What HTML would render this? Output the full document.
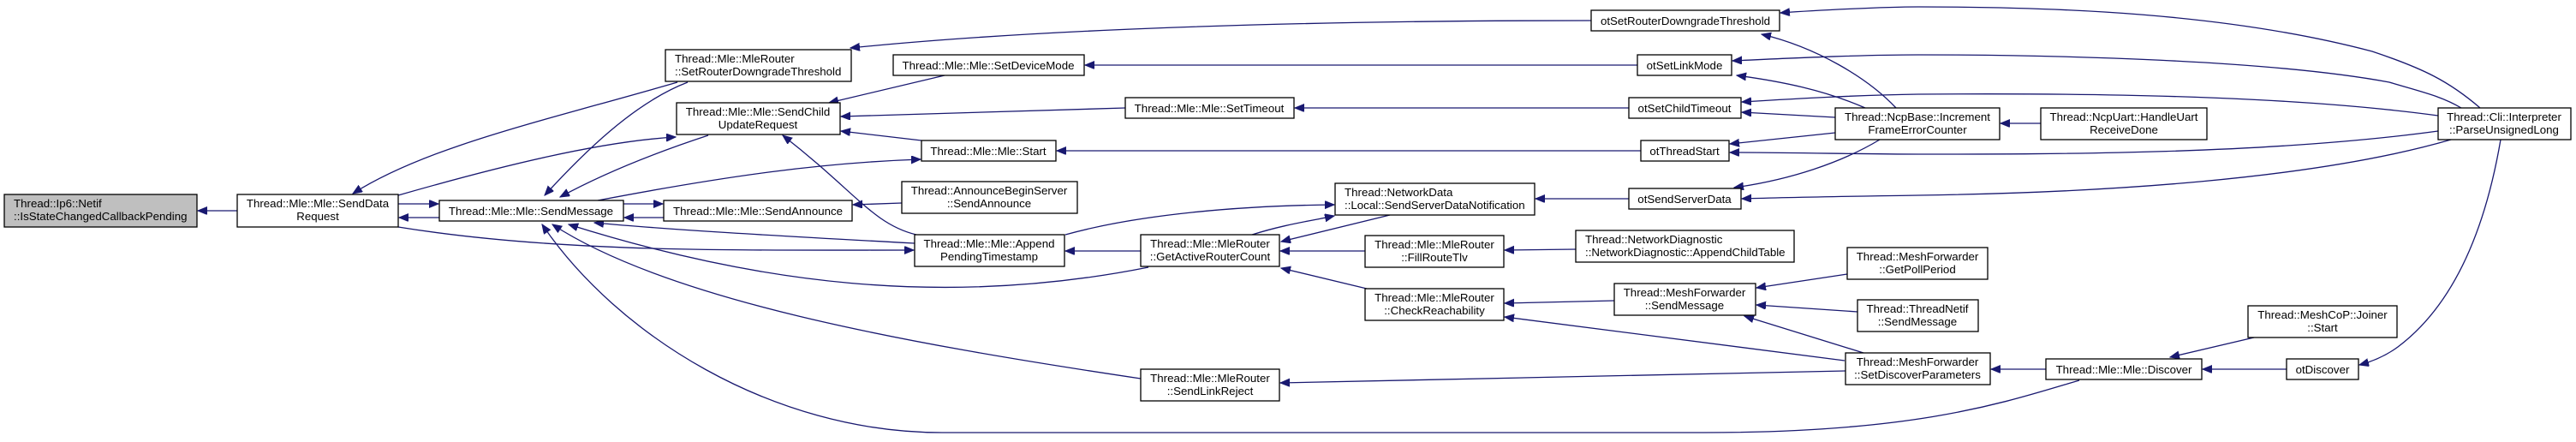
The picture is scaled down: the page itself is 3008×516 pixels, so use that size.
<!DOCTYPE html>
<html><head><meta charset="utf-8"><style>
html,body{margin:0;padding:0;background:#fff;}
svg{display:block;}
text{font-family:"Liberation Sans",Helvetica,Arial,sans-serif;font-size:13.3px;fill:#000;}
.e{fill:none;stroke:#191970;stroke-width:1.3;}
.n{fill:#fff;stroke:#000;stroke-width:1.3;}
</style></head><body>
<svg width="3008" height="516" viewBox="0 0 3008 516" xmlns="http://www.w3.org/2000/svg">
<defs><marker id="a" markerUnits="userSpaceOnUse" markerWidth="12" markerHeight="10" refX="11" refY="4.5" orient="auto"><path d="M0,0 L11,4.5 L0,9 z" fill="#191970" stroke="#191970"/></marker></defs>
<g marker-end="url(#a)">
<path class="e" d="M277,246 L231,246"/>
<path class="e" d="M465,238 L512,238"/>
<path class="e" d="M513,254 L466,254"/>
<path class="e" d="M791,96 C640,140 500,170 412,226"/>
<path class="e" d="M465,228 C580,195 700,165 789,160"/>
<path class="e" d="M803,96 C740,120 680,180 636,228"/>
<path class="e" d="M827,158 C760,180 700,205 654,230"/>
<path class="e" d="M698,234 C850,205 960,190 1075,186"/>
<path class="e" d="M728,238 L774,238"/>
<path class="e" d="M775,254 L729,254"/>
<path class="e" d="M1068,284 C900,275 780,268 694,260"/>
<path class="e" d="M465,265 C650,295 850,292 1067,292"/>
<path class="e" d="M1341,312 C1100,360 880,330 664,262"/>
<path class="e" d="M1332,442 C1050,400 780,350 645,262"/>
<path class="e" d="M2428,444 C2340,470 2240,505 1990,505 L1100,505 C900,505 720,390 633,262"/>
<path class="e" d="M1103,88 L968,120"/>
<path class="e" d="M1314,126 L982,136"/>
<path class="e" d="M1076,164 L982,153"/>
<path class="e" d="M1070,274 C1020,262 1000,225 914,158"/>
<path class="e" d="M1053,237 L996,239"/>
<path class="e" d="M1332,293 L1244,293"/>
<path class="e" d="M1244,274 C1330,250 1450,240 1558,239"/>
<path class="e" d="M1462,274 C1500,262 1530,258 1558,252"/>
<path class="e" d="M1623,251 L1496,282"/>
<path class="e" d="M1594,293 L1495,293"/>
<path class="e" d="M1596,337 L1496,313"/>
<path class="e" d="M2155,433 L1495,447"/>
<path class="e" d="M1902,232 L1793,232"/>
<path class="e" d="M1902,126 L1512,126"/>
<path class="e" d="M1916,176 L1234,176"/>
<path class="e" d="M1912,76 L1267,76"/>
<path class="e" d="M1858,24 C1500,24 1200,35 993,56"/>
<path class="e" d="M1840,291 L1757,292"/>
<path class="e" d="M1885,351 L1757,354"/>
<path class="e" d="M2154,421 L1757,370"/>
<path class="e" d="M2157,320 L2051,336"/>
<path class="e" d="M2169,364 L2051,356"/>
<path class="e" d="M2176,412 L2037,369"/>
<path class="e" d="M2214,126 C2180,90 2120,55 2057,40"/>
<path class="e" d="M2178,126 C2130,105 2080,95 2028,88"/>
<path class="e" d="M2143,137 L2034,131"/>
<path class="e" d="M2143,155 L2020,168"/>
<path class="e" d="M2195,163 C2150,190 2090,210 2025,219"/>
<path class="e" d="M2383,144 L2336,144"/>
<path class="e" d="M2896,126 C2860,95 2830,80 2770,60 C2600,15 2400,8 2240,8 C2200,8 2120,12 2079,15"/>
<path class="e" d="M2874,126 C2850,112 2830,108 2790,96 C2650,70 2400,64 2240,64 C2170,64 2090,68 2023,71"/>
<path class="e" d="M2847,135 C2700,115 2500,108 2240,110 C2170,111 2100,115 2034,119"/>
<path class="e" d="M2847,153 C2650,180 2400,180 2240,180 C2170,180 2100,178 2020,178"/>
<path class="e" d="M2862,163 C2700,210 2450,225 2240,228 C2170,229 2100,230 2034,232"/>
<path class="e" d="M2920,163 C2900,280 2860,360 2800,405 C2785,416 2770,422 2755,426"/>
<path class="e" d="M2670,431 L2572,431"/>
<path class="e" d="M2632,394 L2534,417"/>
<path class="e" d="M2389,431 L2325,431"/>
</g>
<g>
<rect x="5" y="227" width="225" height="38" fill="#bfbfbf" stroke="#000" stroke-width="1.3"/>
<text x="16" y="242">Thread::Ip6::Netif</text><text x="16" y="257">::IsStateChangedCallbackPending</text>
<rect class="n" x="277" y="227" width="188" height="38"/>
<text x="371" y="242" text-anchor="middle">Thread::Mle::Mle::SendData</text><text x="371" y="257" text-anchor="middle">Request</text>
<rect class="n" x="513" y="234" width="215" height="24"/>
<text x="620" y="251" text-anchor="middle">Thread::Mle::Mle::SendMessage</text>
<rect class="n" x="777" y="58" width="217" height="37"/>
<text x="788" y="73">Thread::Mle::MleRouter</text><text x="788" y="88">::SetRouterDowngradeThreshold</text>
<rect class="n" x="1043" y="64" width="223" height="24"/>
<text x="1154" y="81" text-anchor="middle">Thread::Mle::Mle::SetDeviceMode</text>
<rect class="n" x="790" y="120" width="191" height="37"/>
<text x="885" y="135" text-anchor="middle">Thread::Mle::Mle::SendChild</text><text x="885" y="150" text-anchor="middle">UpdateRequest</text>
<rect class="n" x="1314" y="114" width="197" height="24"/>
<text x="1412" y="131" text-anchor="middle">Thread::Mle::Mle::SetTimeout</text>
<rect class="n" x="1076" y="164" width="157" height="24"/>
<text x="1154" y="181" text-anchor="middle">Thread::Mle::Mle::Start</text>
<rect class="n" x="1053" y="212" width="205" height="37"/>
<text x="1155" y="227" text-anchor="middle">Thread::AnnounceBeginServer</text><text x="1155" y="242" text-anchor="middle">::SendAnnounce</text>
<rect class="n" x="775" y="234" width="220" height="24"/>
<text x="885" y="251" text-anchor="middle">Thread::Mle::Mle::SendAnnounce</text>
<rect class="n" x="1068" y="274" width="175" height="37"/>
<text x="1155" y="289" text-anchor="middle">Thread::Mle::Mle::Append</text><text x="1155" y="304" text-anchor="middle">PendingTimestamp</text>
<rect class="n" x="1332" y="274" width="162" height="37"/>
<text x="1413" y="289" text-anchor="middle">Thread::Mle::MleRouter</text><text x="1413" y="304" text-anchor="middle">::GetActiveRouterCount</text>
<rect class="n" x="1332" y="431" width="162" height="37"/>
<text x="1413" y="446" text-anchor="middle">Thread::Mle::MleRouter</text><text x="1413" y="461" text-anchor="middle">::SendLinkReject</text>
<rect class="n" x="1858" y="12" width="220" height="24"/>
<text x="1968" y="29" text-anchor="middle">otSetRouterDowngradeThreshold</text>
<rect class="n" x="1912" y="64" width="110" height="24"/>
<text x="1967" y="81" text-anchor="middle">otSetLinkMode</text>
<rect class="n" x="1902" y="114" width="131" height="24"/>
<text x="1967" y="131" text-anchor="middle">otSetChildTimeout</text>
<rect class="n" x="1916" y="164" width="103" height="24"/>
<text x="1967" y="181" text-anchor="middle">otThreadStart</text>
<rect class="n" x="1559" y="214" width="233" height="37"/>
<text x="1570" y="229">Thread::NetworkData</text><text x="1570" y="244">::Local::SendServerDataNotification</text>
<rect class="n" x="1902" y="220" width="131" height="24"/>
<text x="1967" y="237" text-anchor="middle">otSendServerData</text>
<rect class="n" x="1594" y="275" width="162" height="37"/>
<text x="1675" y="290" text-anchor="middle">Thread::Mle::MleRouter</text><text x="1675" y="305" text-anchor="middle">::FillRouteTlv</text>
<rect class="n" x="1840" y="269" width="255" height="37"/>
<text x="1851" y="284">Thread::NetworkDiagnostic</text><text x="1851" y="299">::NetworkDiagnostic::AppendChildTable</text>
<rect class="n" x="1594" y="337" width="162" height="37"/>
<text x="1675" y="352" text-anchor="middle">Thread::Mle::MleRouter</text><text x="1675" y="367" text-anchor="middle">::CheckReachability</text>
<rect class="n" x="1885" y="331" width="165" height="37"/>
<text x="1967" y="346" text-anchor="middle">Thread::MeshForwarder</text><text x="1967" y="361" text-anchor="middle">::SendMessage</text>
<rect class="n" x="2143" y="126" width="192" height="37"/>
<text x="2239" y="141" text-anchor="middle">Thread::NcpBase::Increment</text><text x="2239" y="156" text-anchor="middle">FrameErrorCounter</text>
<rect class="n" x="2157" y="289" width="164" height="37"/>
<text x="2239" y="304" text-anchor="middle">Thread::MeshForwarder</text><text x="2239" y="319" text-anchor="middle">::GetPollPeriod</text>
<rect class="n" x="2169" y="350" width="141" height="37"/>
<text x="2239" y="365" text-anchor="middle">Thread::ThreadNetif</text><text x="2239" y="380" text-anchor="middle">::SendMessage</text>
<rect class="n" x="2155" y="412" width="169" height="37"/>
<text x="2239" y="427" text-anchor="middle">Thread::MeshForwarder</text><text x="2239" y="442" text-anchor="middle">::SetDiscoverParameters</text>
<rect class="n" x="2383" y="126" width="194" height="37"/>
<text x="2480" y="141" text-anchor="middle">Thread::NcpUart::HandleUart</text><text x="2480" y="156" text-anchor="middle">ReceiveDone</text>
<rect class="n" x="2847" y="126" width="155" height="37"/>
<text x="2924" y="141" text-anchor="middle">Thread::Cli::Interpreter</text><text x="2924" y="156" text-anchor="middle">::ParseUnsignedLong</text>
<rect class="n" x="2625" y="357" width="174" height="37"/>
<text x="2712" y="372" text-anchor="middle">Thread::MeshCoP::Joiner</text><text x="2712" y="387" text-anchor="middle">::Start</text>
<rect class="n" x="2389" y="419" width="182" height="24"/>
<text x="2480" y="436" text-anchor="middle">Thread::Mle::Mle::Discover</text>
<rect class="n" x="2670" y="419" width="84" height="24"/>
<text x="2712" y="436" text-anchor="middle">otDiscover</text>
</g>
</svg>
</body></html>
